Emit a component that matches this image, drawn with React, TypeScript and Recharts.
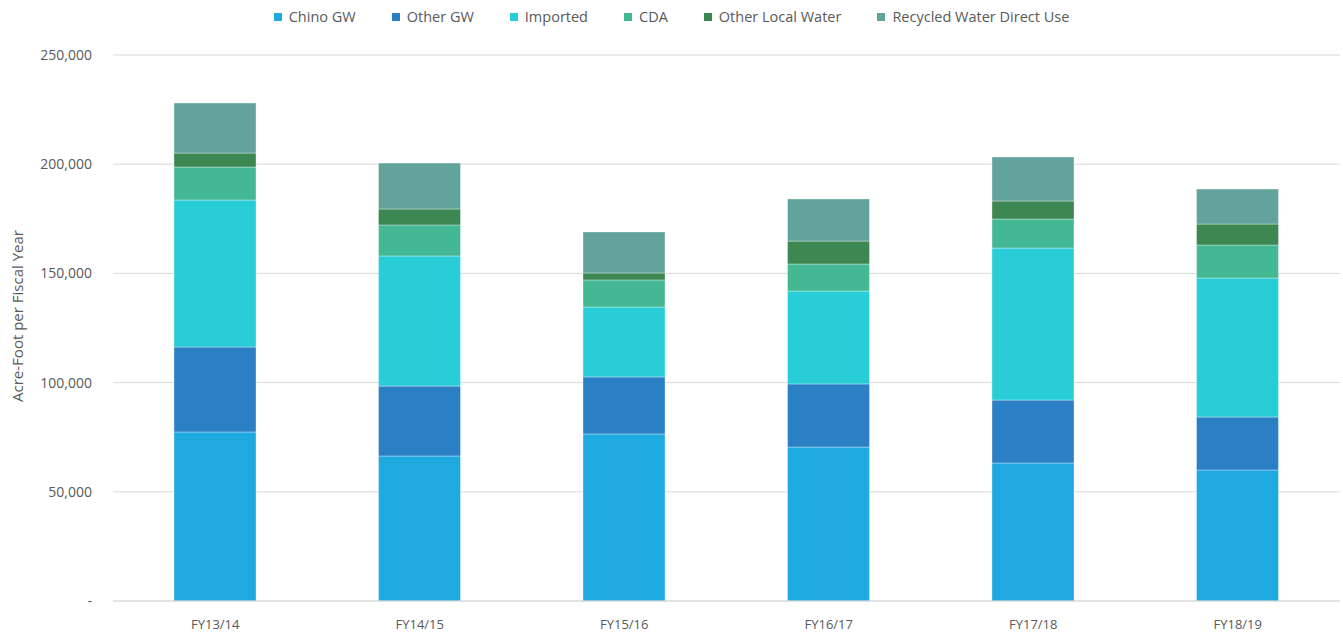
import React from 'react';
import { BarChart, Bar, XAxis, YAxis, CartesianGrid } from 'recharts';

const years = ['FY13/14', 'FY14/15', 'FY15/16', 'FY16/17', 'FY17/18', 'FY18/19'];
const chinoGW = [77400, 66400, 76500, 70500, 63200, 60000];
const otherGW = [38900, 32000, 26100, 28900, 28800, 24250];
const imported = [67300, 59600, 32000, 42500, 69600, 63650];
const cda = [15100, 14200, 12400, 12400, 13300, 15100];
const otherLocal = [6400, 7300, 3200, 10500, 8250, 9600];
const recycled = [22900, 21000, 18800, 19300, 20150, 16000];
const yTicks = [0, 50000, 100000, 150000, 200000, 250000];

const series = [
    { key: 'chinoGW', name: 'Chino GW', color: '#1FA9E1', values: chinoGW },
    { key: 'otherGW', name: 'Other GW', color: '#2A7FC5', values: otherGW },
    { key: 'imported', name: 'Imported', color: '#29CDD7', values: imported },
    { key: 'cda', name: 'CDA', color: '#43B893', values: cda },
    { key: 'otherLocal', name: 'Other Local Water', color: '#3D8752', values: otherLocal },
    { key: 'recycled', name: 'Recycled Water Direct Use', color: '#62A39C', values: recycled },
];

const data = years.map((year, i) => {
    const row: Record<string, string | number> = { year };
    series.forEach((s) => { row[s.key] = s.values[i]; });
    return row;
});

const FONT = '"Open Sans", "Noto Sans", sans-serif';

// legend drawn as a plain html row above the plot
function LegendRow() {
    return (
        <div style={{ position: 'absolute', top: 7, left: 0, width: 1343, display: 'flex', justifyContent: 'center', gap: 36, fontFamily: FONT, fontSize: 14.5, color: '#595959' }}>
            {series.map((s) => (
                <div key={s.key} style={{ display: 'flex', alignItems: 'center' }}>
                    <span style={{ width: 8, height: 8, background: s.color, marginRight: 7, display: 'inline-block' }} />
                    <span>{s.name}</span>
                </div>
            ))}
        </div>
    );
}

export default function App() {
    return (
        <div style={{ position: 'absolute', left: 0, top: 0, width: 1343, height: 634, background: '#fff' }}>
            <BarChart width={1343} height={634} data={data} margin={{ top: 55, right: 3, bottom: 3, left: 0 }} barSize={82}>
                <CartesianGrid vertical={false} stroke="#D9D9D9" />
                <XAxis dataKey="year" stroke="#D9D9D9" tickLine={false} height={30}
                    tick={{ fill: '#595959', fontSize: 13, fontFamily: FONT }} tickMargin={13} />
                <YAxis domain={[0, 250000]} ticks={yTicks} axisLine={false} tickLine={false} width={113}
                    tick={{ fill: '#595959', fontSize: 14, fontFamily: FONT }} tickMargin={15}
                    tickFormatter={(v: number) => (v === 0 ? '-' : v.toLocaleString('en-US'))}
                    label={{
                        value: 'Acre-Foot per Fiscal Year',
                        content: () => (
                            <text x={23} y={316} transform="rotate(-90 23 316)" textAnchor="middle"
                                fill="#595959" fontSize={15} fontFamily={FONT}>
                                Acre-Foot per Fiscal Year
                            </text>
                        ),
                    }} />
                {series.map((s) => (
                    <Bar key={s.key} dataKey={s.key} name={s.name} stackId="a" fill={s.color}
                        stroke="#ffffff" strokeOpacity={0.35} strokeWidth={1} isAnimationActive={false} />
                ))}
            </BarChart>
            <LegendRow />
        </div>
    );
}
